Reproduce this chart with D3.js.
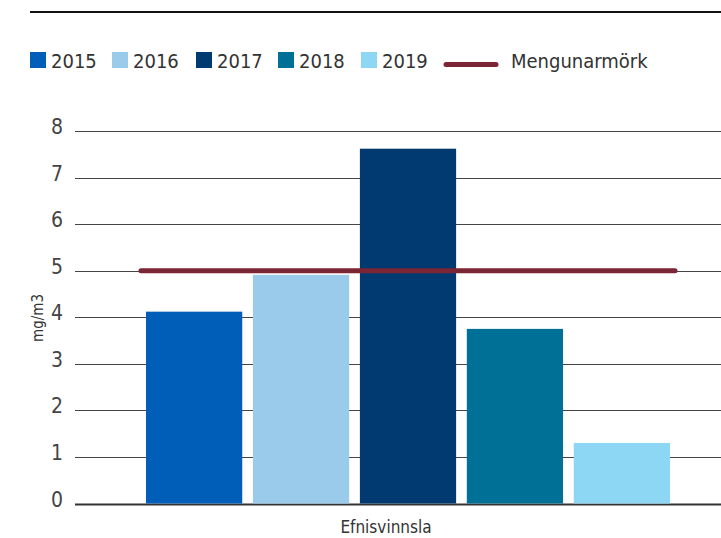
<!DOCTYPE html>
<html>
<head>
<meta charset="utf-8">
<script src="https://cdn.jsdelivr.net/npm/d3@7"></script>
<style>
  body { margin: 0; background: #fff; }
  text { font-family: "DejaVu Sans Condensed", "Liberation Sans Narrow", "Roboto", sans-serif; }
</style>
</head>
<body>
<svg id="chart" width="721" height="538"></svg>
<script>
// data
var category = "Efnisvinnsla";
var years = ["2015", "2016", "2017", "2018", "2019"];
var values = [4.12, 4.91, 7.62, 3.75, 1.30];
var limitValue = 5;
var limitLabel = "Mengunarmörk";
var yTicks = [0, 1, 2, 3, 4, 5, 6, 7, 8];
var colors = ["#005eb8", "#9bcbeb", "#003a70", "#007096", "#8dd7f5"];

var svg = d3.select("#chart");

// top rule
svg.append("line")
  .attr("x1", 30).attr("x2", 721)
  .attr("y1", 12).attr("y2", 12)
  .attr("stroke", "#111").attr("stroke-width", 2);

// scales
var y = d3.scaleLinear().domain([0, 8]).range([503.5, 131]);
var x = d3.scaleBand().domain(years).range([146, 670]).paddingInner(0.1);

// gridlines
svg.append("g")
  .selectAll("line")
  .data(yTicks)
  .join("line")
    .attr("x1", 75).attr("x2", 721)
    .attr("y1", function(d) { return Math.round(y(d)) + 0.5; })
    .attr("y2", function(d) { return Math.round(y(d)) + 0.5; })
    .attr("stroke", function(d) { return d === 0 ? "#333" : "#444"; })
    .attr("stroke-width", function(d) { return d === 0 ? 2 : 1; });

// y tick labels
svg.append("g")
  .selectAll("text")
  .data(yTicks)
  .join("text")
    .attr("x", 63)
    .attr("y", function(d) { return y(d) + 3; })
    .attr("text-anchor", "end")
    .attr("font-size", 21)
    .attr("fill", "#444")
    .text(function(d) { return d; });

// y axis title
svg.append("text")
  .attr("transform", "translate(43,318) rotate(-90)")
  .attr("text-anchor", "middle")
  .attr("font-size", 15)
  .attr("fill", "#333")
  .text("mg/m3");

// bars
svg.append("g")
  .selectAll("rect")
  .data(values)
  .join("rect")
    .attr("x", function(d, i) { return x(years[i]); })
    .attr("width", x.bandwidth())
    .attr("y", function(d) { return y(d); })
    .attr("height", function(d) { return y(0) - y(d); })
    .attr("fill", function(d, i) { return colors[i]; });

// limit line
svg.append("line")
  .attr("x1", x(years[0]) - 5)
  .attr("x2", x(years[years.length - 1]) + x.bandwidth() + 5)
  .attr("y1", y(limitValue)).attr("y2", y(limitValue))
  .attr("stroke", "#7b2535")
  .attr("stroke-width", 5)
  .attr("stroke-linecap", "round");

// x category label
svg.append("text")
  .attr("x", 386).attr("y", 533)
  .attr("text-anchor", "middle")
  .attr("font-size", 17)
  .attr("fill", "#333")
  .text(category);

// legend
var legendX = [30, 112, 196, 278, 361];
var legend = svg.append("g");
years.forEach(function(yr, i) {
  legend.append("rect")
    .attr("x", legendX[i]).attr("y", 52)
    .attr("width", 16).attr("height", 16)
    .attr("fill", colors[i]);
  legend.append("text")
    .attr("x", legendX[i] + 21).attr("y", 68)
    .attr("font-size", 20)
    .attr("fill", "#333")
    .text(yr);
});
legend.append("line")
  .attr("x1", 446).attr("x2", 496)
  .attr("y1", 64.5).attr("y2", 64.5)
  .attr("stroke", "#7b2535")
  .attr("stroke-width", 5)
  .attr("stroke-linecap", "round");
legend.append("text")
  .attr("x", 511).attr("y", 68)
  .attr("font-size", 20)
  .attr("fill", "#333")
  .text(limitLabel);
</script>
</body>
</html>
